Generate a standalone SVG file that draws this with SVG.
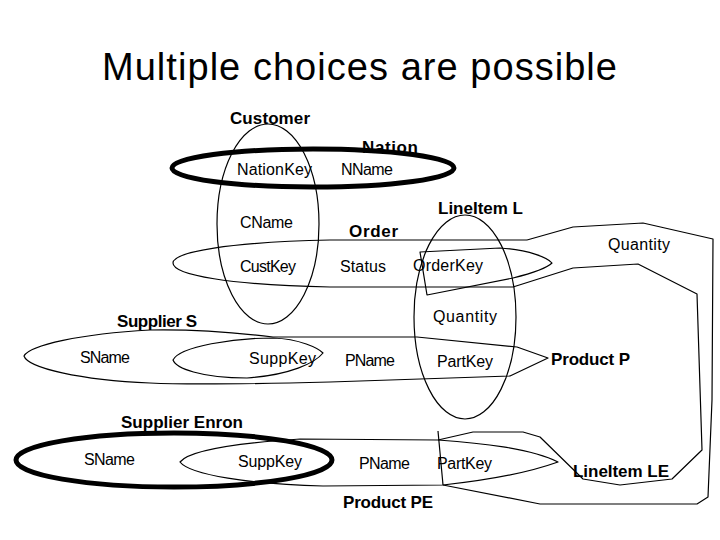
<svg xmlns="http://www.w3.org/2000/svg" width="720" height="540" viewBox="0 0 720 540">
<style>
.t{font-family:"Liberation Sans",Arial,sans-serif;font-size:16px;fill:#000}
.b{font-family:"Liberation Sans",Arial,sans-serif;font-size:17px;font-weight:bold;fill:#000}
.h{font-family:"Liberation Sans",Arial,sans-serif;font-size:38px;fill:#000}
.s{fill:none;stroke:#000;stroke-width:1.2;stroke-linejoin:round}
.k{fill:none;stroke:#000;stroke-width:5}
</style>
<rect width="720" height="540" fill="#fff"/>
<text class="h" x="102" y="80" textLength="515">Multiple choices are possible</text>

<g id="customer">
<ellipse class="s" cx="268" cy="224" rx="51" ry="100"/>
<text class="b" x="230" y="124" textLength="80">Customer</text>
<text class="t" x="240" y="228" textLength="53">CName</text>
<text class="t" x="240" y="272" textLength="56">CustKey</text>
</g>

<g id="nation">
<text class="b" x="362" y="153" textLength="56">Nation</text>
<text class="t" x="237" y="175" textLength="75">NationKey</text>
<text class="t" x="341" y="175" textLength="52">NName</text>
<ellipse class="k" cx="313" cy="168" rx="141" ry="19"/>
</g>

<g id="order">
<path class="s" d="M527,240 L330,240 C230,242 173,252 173,263 C173,275 230,285 330,287 L513,287"/>
<text class="b" x="349" y="237" textLength="49">Order</text>
<text class="t" x="340" y="272" textLength="46">Status</text>
<text class="t" x="413" y="271" textLength="70">OrderKey</text>
</g>

<g id="lineitem-l">
<ellipse class="s" cx="465" cy="317" rx="51" ry="102"/>
<text class="b" x="438" y="214" textLength="85">LineItem L</text>
<text class="t" x="433" y="322" textLength="64">Quantity</text>
</g>

<g id="supplier-s">
<path class="s" d="M24,356 C30,345 80,334 150,330 C200,329 240,333 273,337 L417,337 L517,347 L548,358 L510,376 L330,382 C250,384 190,385 150,383 C80,380 28,368 24,356 Z"/>
<text class="b" x="117" y="327" textLength="80">Supplier S</text>
<text class="t" x="80" y="363" textLength="50">SName</text>
</g>

<g id="product-p">
<path class="s" d="M173,360 C180,346 235,338 273,338 C300,339 318,348 323,353 C315,363 290,375 247,378 C200,378 176,368 173,360 Z"/>
<text class="t" x="249" y="364" textLength="67">SuppKey</text>
<text class="t" x="345" y="366" textLength="50">PName</text>
<text class="t" x="437" y="367" textLength="56">PartKey</text>
<text class="b" x="551" y="365" textLength="79">Product P</text>
</g>

<g id="supplier-enron">
<text class="b" x="121" y="428" textLength="122">Supplier Enron</text>
<text class="t" x="84" y="465" textLength="51">SName</text>
<ellipse class="k" cx="174" cy="460" rx="158" ry="27"/>
</g>

<g id="product-pe">
<path class="s" d="M180,462 C190,450 240,443 300,439 L438,440 C480,443 530,448 558,462 C530,472 490,480 443,485 L323,486 C250,484 190,475 180,462 Z"/>
<text class="t" x="238" y="467" textLength="64">SuppKey</text>
<text class="t" x="359" y="469" textLength="51">PName</text>
<text class="t" x="437" y="469" textLength="55">PartKey</text>
<text class="b" x="343" y="508" textLength="90">Product PE</text>
</g>

<g id="lineitem-le">
<path class="s" d="M420,252 L500,248 C530,250 548,258 552,263 C545,270 525,275 513,278 L427,295 Z"/>
<path class="s" d="M527,240 L573,227 L643,223 L713,239 L712,400 L708,497 L697,504 L540,504 L443,485"/>
<path class="s" d="M513,287 L573,268 L638,264 L697,294 L702,450 L672,479 L620,485 L583,479 L540,437 L523,432 L473,432 L438,440"/>
<path class="s" d="M438,431 L443,485"/>
<text class="t" x="608" y="250" textLength="62">Quantity</text>
<text class="b" x="573" y="477" textLength="96">LineItem LE</text>
</g>

<g id="connectors"></g>
</svg>
